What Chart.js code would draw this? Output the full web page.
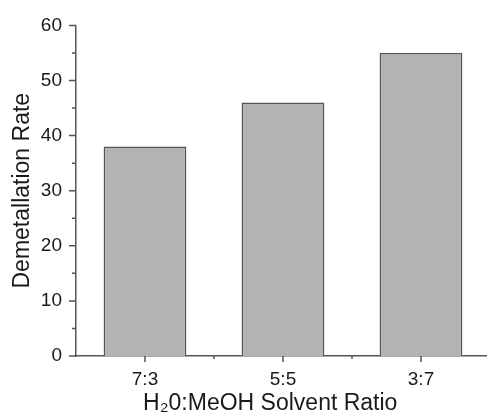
<!DOCTYPE html>
<html>
<head>
<meta charset="utf-8">
<script src="https://cdn.jsdelivr.net/npm/chart.js@4.4.1/dist/chart.umd.min.js"></script>
<style>
    html, body { margin: 0; padding: 0; background: #fff; overflow: hidden; }
</style>
</head>
<body>
<canvas id="chart" width="490" height="419"></canvas>
<script>
// Data
const ratios = ['7:3', '5:5', '3:7'];
const demetallation = [38, 46, 55];
const yTicks = [0, 10, 20, 30, 40, 50, 60];

const axisColor = '#555555';
const textColor = '#1a1a1a';

// Outward tick marks, long for major and short for minor
const tickMarks = {
    id: 'tickMarks',
    afterDraw(chart) {
        const ctx = chart.ctx;
        const x = chart.scales.x;
        const y = chart.scales.y;
        ctx.save();
        ctx.strokeStyle = axisColor;
        ctx.lineWidth = 1.5;
        ctx.beginPath();
        for (let v = 0; v <= 60; v += 5) {
            const py = y.getPixelForValue(v);
            const len = v % 10 === 0 ? 7 : 4;
            ctx.moveTo(y.right, py);
            ctx.lineTo(y.right - len, py);
        }
        ratios.forEach((r, i) => {
            const px = x.getPixelForValue(i);
            ctx.moveTo(px, x.top);
            ctx.lineTo(px, x.top + 6);
            if (i > 0) {
                const pb = (x.getPixelForValue(i - 1) + px) / 2;
                ctx.moveTo(pb, x.top);
                ctx.lineTo(pb, x.top + 3);
            }
        });
        ctx.stroke();
        ctx.restore();
    }
};

new Chart(document.getElementById('chart'), {
    type: 'bar',
    data: {
        labels: ratios,
        datasets: [{
            data: demetallation,
            backgroundColor: '#b3b3b3',
            borderColor: '#555555',
            borderWidth: 1.5,
            barPercentage: 0.6,
            categoryPercentage: 1.0
        }]
    },
    options: {
        responsive: false,
        animation: false,
        layout: { padding: { top: 24, right: 0, left: 0, bottom: 0 } },
        plugins: {
            legend: { display: false },
            tooltip: { enabled: false }
        },
        scales: {
            x: {
                offset: true,
                afterFit: s => { s.height = 63; },
                grid: { display: false, drawTicks: false },
                border: { display: true, color: axisColor, width: 1.5 },
                ticks: {
                    padding: 12,
                    color: textColor,
                    font: { family: 'Liberation Sans', size: 19 }
                },
                title: {
                    display: true,
                    // trailing spaces nudge the centred title left, as in the figure
                    text: 'H₂0:MeOH Solvent Ratio    ',
                    color: textColor,
                    padding: { top: 0, bottom: 2 },
                    font: { family: 'Liberation Sans', size: 23 }
                }
            },
            y: {
                min: 0,
                max: 60,
                afterFit: s => { s.width = 76; },
                afterBuildTicks: s => { s.ticks = yTicks.map(v => ({ value: v })); },
                grid: { display: false, drawTicks: false },
                border: { display: true, color: axisColor, width: 1.5 },
                ticks: {
                    padding: 14,
                    color: textColor,
                    font: { family: 'Liberation Sans', size: 19 }
                },
                title: {
                    display: true,
                    text: 'Demetallation Rate',
                    color: textColor,
                    padding: { top: 9, bottom: 0 },
                    font: { family: 'Liberation Sans', size: 23 }
                }
            }
        }
    },
    plugins: [tickMarks]
});
</script>
</body>
</html>
